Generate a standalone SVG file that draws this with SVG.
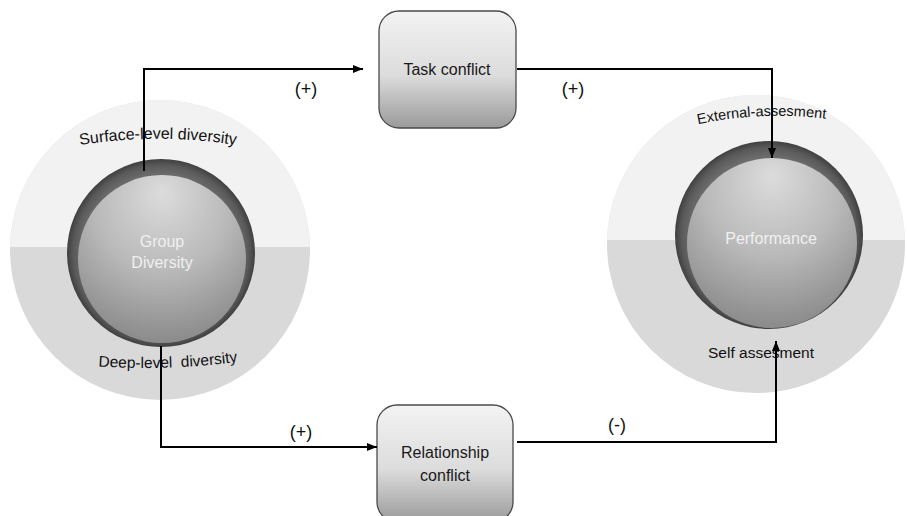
<svg xmlns="http://www.w3.org/2000/svg" width="907" height="516" viewBox="0 0 907 516">
<style>
.lbl{font-family:"Liberation Sans",Arial,sans-serif;fill:#111;}
.sg{font-size:18px;text-anchor:middle;}
.wt{font-family:"Liberation Sans",Arial,sans-serif;fill:#f0f0f0;font-size:16px;text-anchor:middle;}
.bx{font-family:"Liberation Sans",Arial,sans-serif;fill:#1a1a1a;font-size:16px;text-anchor:middle;}
.top{fill:#f2f2f2;}
.bot{fill:#d9d9d9;}
.ring{fill:url(#ringG);}
.sph{fill:url(#sphG);}
.box{fill:url(#boxG);stroke:#4a4a4a;stroke-width:1.3;}
.con{fill:none;stroke:#000;stroke-width:2;marker-end:url(#ah);}
</style>
<defs>
<radialGradient id="ringG" cx="50%" cy="50%" r="50%">
<stop offset="0.8" stop-color="#717171"/>
<stop offset="0.93" stop-color="#5a5a5a"/>
<stop offset="1" stop-color="#404040"/>
</radialGradient>
<radialGradient id="sphG" cx="50%" cy="25%" r="80%" fx="50%" fy="10%">
<stop offset="0" stop-color="#dcdcdc"/>
<stop offset="0.5" stop-color="#b9b9b9"/>
<stop offset="1" stop-color="#858585"/>
</radialGradient>
<linearGradient id="boxG" x1="0" y1="0" x2="0" y2="1">
<stop offset="0" stop-color="#f3f3f3"/>
<stop offset="0.55" stop-color="#dcdcdc"/>
<stop offset="1" stop-color="#9a9a9a"/>
</linearGradient>
<marker id="ah" markerUnits="userSpaceOnUse" markerWidth="10" markerHeight="8" refX="10" refY="4" orient="auto">
<path d="M0,0 L10,4 L0,8 Z" fill="#000"/>
</marker>
<path id="arcSurf" d="M 68,147 A 500 500 0 0 1 248,147"/>
<path id="arcDeep" d="M 92,366 A 700 700 0 0 0 244,361"/>
<path id="arcExt" d="M 690,126 A 380 380 0 0 1 834,120"/>
</defs>
<rect width="907" height="516" fill="#fff"/>

<g id="group-diversity">
<circle cx="160" cy="250" r="150" class="bot"/>
<path d="M 10.03,247 A 150 150 0 0 1 309.97,247 Z" class="top"/>
<circle cx="161" cy="253" r="94" class="ring"/>
<circle cx="162" cy="259" r="84" class="sph"/>
<text class="wt" x="162" y="247">Group</text>
<text class="wt" x="162" y="268">Diversity</text>
<text class="lbl" font-size="16"><textPath href="#arcSurf" startOffset="50%" text-anchor="middle">Surface-level diversity</textPath></text>
<text class="lbl" font-size="15.5"><textPath href="#arcDeep" startOffset="50%" text-anchor="middle" xml:space="preserve">Deep-level  diversity</textPath></text>
</g>

<g id="performance">
<circle cx="756" cy="244" r="149" class="bot"/>
<path d="M 607.05,240 A 149 149 0 0 1 904.95,240 Z" class="top"/>
<circle cx="769" cy="235" r="94" class="ring"/>
<circle cx="772" cy="243" r="85" class="sph"/>
<text class="wt" x="771" y="244">Performance</text>
<text class="lbl" font-size="14.5"><textPath href="#arcExt" startOffset="50%" text-anchor="middle">External-assesment</textPath></text>
<text class="lbl" font-size="15.5" x="761" y="358" text-anchor="middle">Self assesment</text>
</g>

<g id="task-conflict">
<rect x="379" y="11" width="137" height="117" rx="20" class="box"/>
<text class="bx" x="447" y="75">Task conflict</text>
</g>

<g id="relationship-conflict">
<rect x="377" y="405" width="136" height="117" rx="20" class="box"/>
<text class="bx" x="445" y="458">Relationship</text>
<text class="bx" x="445" y="481">conflict</text>
</g>

<g id="connectors">
<path class="con" d="M 144,171 V 69 H 363"/>
<path class="con" d="M 517,69 H 772 V 158"/>
<path class="con" d="M 161,346 V 447 H 377"/>
<path class="con" d="M 517,442 H 776 V 341"/>
<text class="lbl sg" x="306" y="95">(+)</text>
<text class="lbl sg" x="573" y="95">(+)</text>
<text class="lbl sg" x="301" y="438">(+)</text>
<text class="lbl sg" x="617" y="431">(-)</text>
</g>
</svg>
